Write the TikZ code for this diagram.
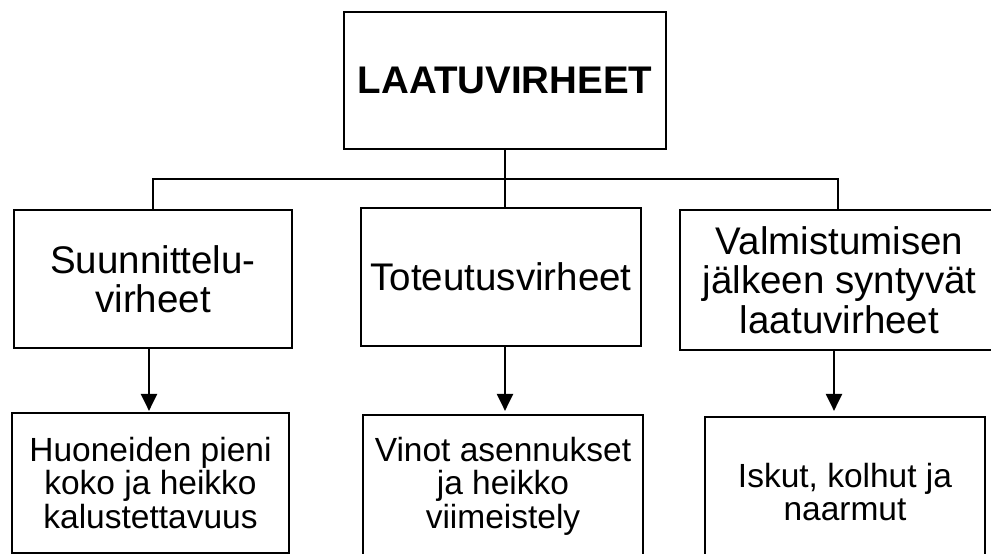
\documentclass[tikz,border=0pt]{standalone}
\usepackage{fontspec}
\setmainfont{Liberation Sans}
\usetikzlibrary{arrows.meta}
\begin{document}
\begin{tikzpicture}[x=1pt,y=-1pt,
  box/.style={draw=black, line width=2.2pt, fill=white, inner sep=0pt, align=center},
  bigtxt/.style={font=\fontsize{38.5}{39.5}\selectfont},
  smalltxt/.style={font=\fontsize{33.5}{33.5}\selectfont},
  conn/.style={line width=2.2pt},
  arr/.style={line width=2.2pt, -{Triangle[width=16pt,length=17pt]}}]
\useasboundingbox (0,0) rectangle (991,554);
\node[box, minimum width=322pt, minimum height=137pt, font=\fontsize{38.5}{39.5}\selectfont\bfseries] (top) at (505,80.5) {LAATUVIRHEET};
\node[box, bigtxt, minimum width=278pt, minimum height=138pt] (s1) at (153,279) {Suunnittelu-\\virheet};
\node[box, bigtxt, minimum width=280pt, minimum height=138pt] (s2) at (501,277) {Toteutusvirheet};
\node[box, bigtxt, minimum width=319pt, minimum height=140pt] (s3) at (839.5,280) {Valmistumisen\\jälkeen syntyvät\\laatuvirheet};
\node[box, smalltxt, minimum width=277pt, minimum height=140pt] (b1) at (150.5,483) {Huoneiden pieni\\koko ja heikko\\kalustettavuus};
\node[box, smalltxt, minimum width=280pt, minimum height=142pt] (b2) at (503,486) {Vinot asennukset\\ja heikko\\viimeistely};
\node[box, smalltxt, minimum width=280pt, minimum height=150pt] (b3) at (845,492) {Iskut, kolhut ja\\naarmut};
\coordinate (bus) at (505,179);
\draw[conn] (top.south) -- (top.south |- s2.north);
\draw[conn] (s1.north) |- (bus) -| ([xshift=-1.5pt]s3.north);
\draw[arr, shorten >=1pt] ([xshift=-4pt]s1.south) -- ([xshift=-1.5pt]b1.north);
\draw[arr, shorten >=3pt] ([xshift=4pt]s2.south) -- ([xshift=2pt]b2.north);
\draw[arr, shorten >=5pt] ([xshift=-5.5pt]s3.south) -- ([xshift=-11pt]b3.north);
\end{tikzpicture}
\end{document}
